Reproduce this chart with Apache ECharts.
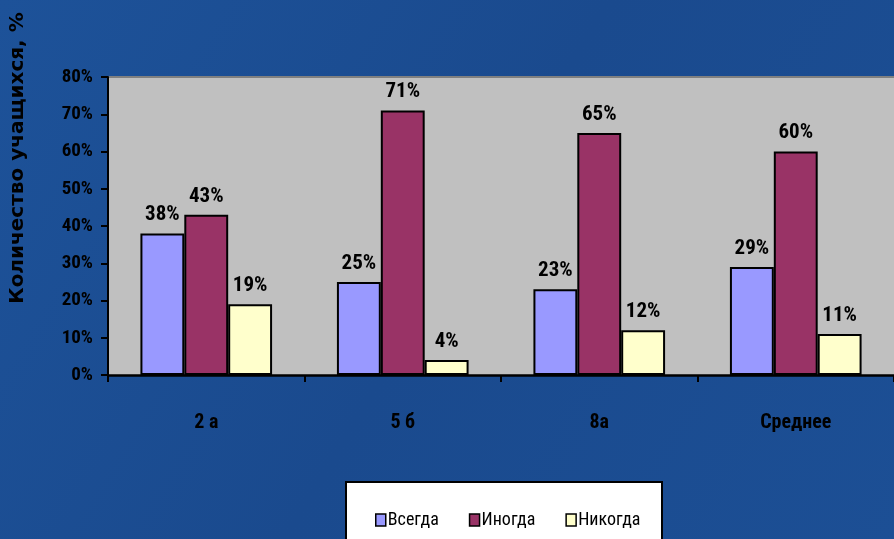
<!DOCTYPE html>
<html><head><meta charset="utf-8">
<script src="https://cdn.jsdelivr.net/npm/echarts@6/dist/echarts.min.js"></script>
<style>html,body{margin:0;padding:0;background:#1b4d93;}#c{width:894px;height:539px;}</style>
</head><body><div id="c"></div>
<script>
var categories = ['2 а', '5 б', '8а', 'Среднее'];
var seriesNames = ['Всегда', 'Иногда', 'Никогда'];
var always = [38, 25, 23, 29];
var sometimes = [43, 71, 65, 60];
var never = [19, 4, 12, 11];
var yTicks = [0, 10, 20, 30, 40, 50, 60, 70, 80];
var colors = ['#9999ff', '#993366', '#ffffcc'];
var FN = "'Roboto Condensed', 'Liberation Sans', Arial, sans-serif";

var chart = echarts.init(document.getElementById('c'));
function mk(name, data, i) {
  return {
    name: name, type: 'bar', data: data, barGap: '0%', barCategoryGap: '33%',
    itemStyle: { color: colors[i], borderColor: '#000', borderWidth: 2 },
    label: { show: true, position: 'top', distance: 8, formatter: '{c}%', color: '#000',
      fontFamily: FN, fontWeight: 'bold', fontSize: 21 }
  };
}
chart.setOption({
  backgroundColor: new echarts.graphic.LinearGradient(0, 0, 1, 1, [
    { offset: 0, color: '#1d5299' }, { offset: 0.5, color: '#1a4a8e' }, { offset: 1, color: '#1c4f95' }]),
  animation: false,
  grid: { left: 108, right: -7, top: 77, bottom: 164, show: true, backgroundColor: '#c0c0c0', borderWidth: 0 },
  graphic: [
    { type: 'line', shape: { x1: 108, y1: 77, x2: 894, y2: 77 }, style: { stroke: '#808080', lineWidth: 2 } },
    { type: 'rect', shape: { x: 346, y: 482, width: 316, height: 70 }, style: { fill: '#fff', stroke: '#000', lineWidth: 2 }, z: 0 },
    { type: 'text', x: 18, y: 158, rotation: Math.PI / 2,
      style: { text: 'Количество учащихся, %', fill: '#000', font: "bold 20px 'DejaVu Sans', sans-serif",
        align: 'center', verticalAlign: 'middle' } }
  ],
  legend: {
    data: seriesNames, left: 370, top: 506, itemWidth: 10, itemHeight: 12, itemGap: 30,
    icon: 'rect', z: 10,
    itemStyle: { borderColor: '#000', borderWidth: 1.5 },
    textStyle: { fontFamily: FN, fontSize: 18, color: '#000', padding: [0, 0, 0, -3] }
  },
  xAxis: {
    type: 'category', data: categories,
    axisLine: { lineStyle: { color: '#000', width: 2.5 } },
    axisTick: { show: true, length: 7, lineStyle: { color: '#000', width: 2 } },
    axisLabel: { margin: 38, color: '#000', fontFamily: FN, fontWeight: 'bold', fontSize: 20 }
  },
  yAxis: {
    type: 'value', min: 0, max: 80, interval: 10,
    splitLine: { show: false },
    axisLine: { show: true, lineStyle: { color: '#000', width: 2 } },
    axisTick: { show: true, length: 7, lineStyle: { color: '#000', width: 2 } },
    axisLabel: { margin: 15, color: '#000', fontFamily: FN, fontWeight: 'bold', fontSize: 19,
      formatter: function (v) { return yTicks.indexOf(v) >= 0 ? v + '%' : ''; } }
  },
  series: [mk(seriesNames[0], always, 0), mk(seriesNames[1], sometimes, 1), mk(seriesNames[2], never, 2)]
});
</script></body></html>
